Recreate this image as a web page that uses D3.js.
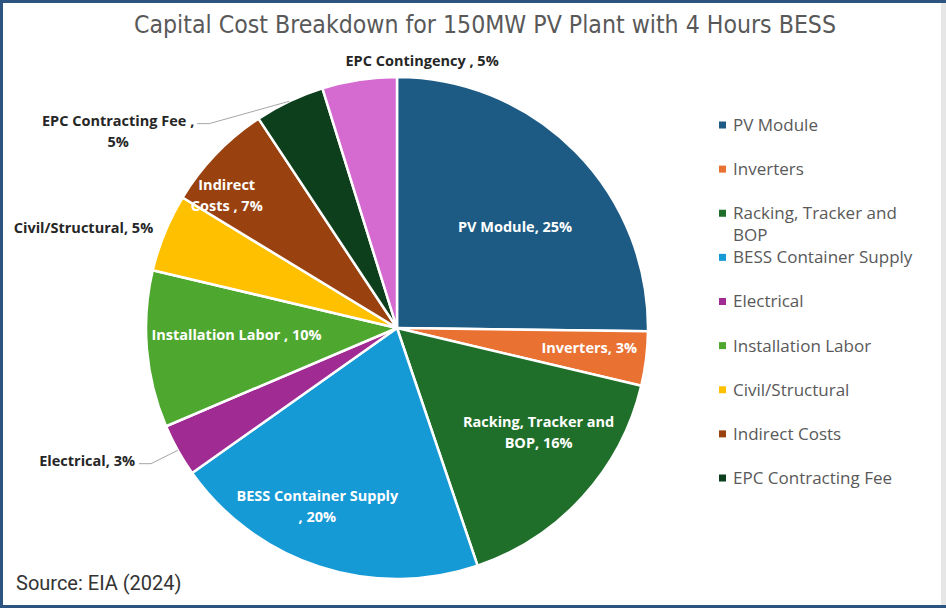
<!DOCTYPE html>
<html>
<head>
<meta charset="utf-8">
<script src="https://cdn.jsdelivr.net/npm/d3@7"></script>
<style>
  html, body { margin: 0; padding: 0; background: #fff; }
  svg { display: block; }
</style>
</head>
<body>
<div id="chart"></div>
<script>
// Chart data
const categories = [
    'PV Module', 'Inverters', 'Racking, Tracker and BOP', 'BESS Container Supply',
    'Electrical', 'Installation Labor', 'Civil/Structural', 'Indirect Costs',
    'EPC Contracting Fee', 'EPC Contingency'
];
const shares = [25.2, 3.5, 16.1, 20.4, 3.4, 10.1, 5.0, 7.0, 4.5, 4.8];
const shareLabels = ['25%', '3%', '16%', '20%', '3%', '10%', '5%', '7%', '5%', '5%'];
const colors = [
    '#1d5b84', '#e97132', '#1f6f2a', '#169ad6', '#a02b93',
    '#4ea72e', '#ffc000', '#99420f', '#0e3f1c', '#d56bd0'
];
// legend shows the first nine entries only (last one is cut off in the source)
const legendNames = [
    ['PV Module'], ['Inverters'], ['Racking, Tracker and', 'BOP'], ['BESS Container Supply'],
    ['Electrical'], ['Installation Labor'], ['Civil/Structural'], ['Indirect Costs'],
    ['EPC Contracting Fee']
];
// label text lines per slice
const labelLines = [
    ['PV Module, 25%'],
    ['Inverters, 3%'],
    ['Racking, Tracker and', 'BOP, 16%'],
    ['BESS Container Supply', ', 20%'],
    ['Electrical, 3%'],
    ['Installation Labor , 10%'],
    ['Civil/Structural, 5%'],
    ['Indirect', 'Costs , 7%'],
    ['EPC Contracting Fee ,', '5%'],
    ['EPC Contingency , 5%']
];

const W = 946, H = 608;
const cx = 397, cy = 328, R = 251;

// label layout: radius factor, angle shift (deg), inside or not, anchor, leader
const labelLayout = [
    { r: 0.62, da: 4, inside: true },
    { r: 0.77, da: -1, inside: true },
    { r: 0.70, da: -6, inside: true },
    { r: 0.78, da: 6, inside: true },
    { r: 1.17, da: 2.3, inside: false, anchor: 'end', leader: true },
    { r: 0.64, da: 2.4, inside: true },
    { r: 1.05, da: 0, inside: false, anchor: 'end' },
    { r: 0.86, da: -6, inside: true },
    { r: 1.36, da: -29.4, inside: false, anchor: 'middle', leader: true },
    { r: 1.07, da: 14, inside: false, anchor: 'middle' }
];

const data = categories.map((c, i) => ({ name: c, value: shares[i], color: colors[i], lines: labelLines[i], layout: labelLayout[i] }));

const svg = d3.select('#chart').append('svg')
    .attr('width', W)
    .attr('height', H);

// frame
svg.append('rect').attr('x', 0).attr('y', 0).attr('width', W).attr('height', H).attr('fill', '#2c5480');
svg.append('rect').attr('x', 3).attr('y', 3).attr('width', W - 3).attr('height', H - 6).attr('fill', '#e6e6e6');
svg.append('rect').attr('x', 3).attr('y', 3).attr('width', W - 8).attr('height', H - 6).attr('fill', '#ffffff');

// title
svg.append('text')
    .attr('x', 485)
    .attr('y', 33)
    .attr('text-anchor', 'middle')
    .attr('fill', '#595959')
    .style('font-family', '"Liberation Sans Narrow", "DejaVu Sans Condensed", Roboto, sans-serif')
    .style('font-size', '24px')
    .attr('textLength', 702)
    .attr('lengthAdjust', 'spacingAndGlyphs')
    .text('Capital Cost Breakdown for 150MW PV Plant with 4 Hours BESS');

const pie = d3.pie().sort(null).value(d => d.value);
const arcs = pie(data);
const arc = d3.arc().innerRadius(0).outerRadius(R);

const g = svg.append('g').attr('transform', `translate(${cx},${cy})`);

g.selectAll('path.slice')
    .data(arcs)
    .enter().append('path')
    .attr('class', 'slice')
    .attr('d', arc)
    .attr('fill', d => d.data.color)
    .attr('stroke', '#ffffff')
    .attr('stroke-width', 2.5)
    .attr('stroke-linejoin', 'round');

// polar helper (angle from 12 o'clock, clockwise)
function polar(a, r) {
    return [Math.sin(a) * r, -Math.cos(a) * r];
}

const labelFont = '"Open Sans", Lato, sans-serif';
const lineH = 21;

arcs.forEach(d => {
    const L = d.data.layout;
    const mid = (d.startAngle + d.endAngle) / 2;
    const a = mid + L.da * Math.PI / 180;
    const [px, py] = polar(a, R * L.r);
    const n = d.data.lines.length;

    const t = g.append('text')
        .attr('text-anchor', L.inside ? 'middle' : L.anchor)
        .attr('fill', L.inside ? '#ffffff' : '#262626')
        .style('font-family', labelFont)
        .style('font-weight', 'bold')
        .style('font-size', '14.5px');

    d.data.lines.forEach((line, i) => {
        t.append('tspan')
            .attr('x', px)
            .attr('y', py + (i - (n - 1) / 2) * lineH)
            .attr('dy', '0.35em')
            .text(line);
    });

    if (L.leader) {
        // leader runs from the slice edge to the end of the first text line
        const first = t.select('tspan').node().getComputedTextLength();
        const ty = py - (n - 1) / 2 * lineH + 3;
        const tx = L.anchor === 'end' ? px + 4 : px + first / 2 + 3;
        const [ex, ey] = polar(mid, R);
        g.insert('path', 'text')
            .attr('d', d3.line()([[ex, ey], [tx + 12, ty], [tx, ty]]))
            .attr('fill', 'none')
            .attr('stroke', '#a6a6a6')
            .attr('stroke-width', 1);
    }
});

// legend
const legend = svg.append('g').attr('transform', 'translate(719,0)');
const legendY = d3.scalePoint().domain(d3.range(legendNames.length)).range([125, 478]);

legendNames.forEach((lines, i) => {
    const y = legendY(i);
    legend.append('rect')
        .attr('x', 0)
        .attr('y', y - 3.5)
        .attr('width', 7)
        .attr('height', 7)
        .attr('fill', colors[i]);
    const t = legend.append('text')
        .attr('fill', '#595959')
        .style('font-family', labelFont)
        .style('font-size', '17px');
    lines.forEach((line, j) => {
        t.append('tspan')
            .attr('x', 14)
            .attr('y', y + j * 22)
            .attr('dy', '0.35em')
            .text(line);
    });
});

// source note
svg.append('text')
    .attr('x', 16)
    .attr('y', 590)
    .attr('fill', '#333333')
    .style('font-family', 'Roboto, "Noto Sans", sans-serif')
    .style('font-size', '20px')
    .text('Source: EIA (2024)');
</script>
</body>
</html>
